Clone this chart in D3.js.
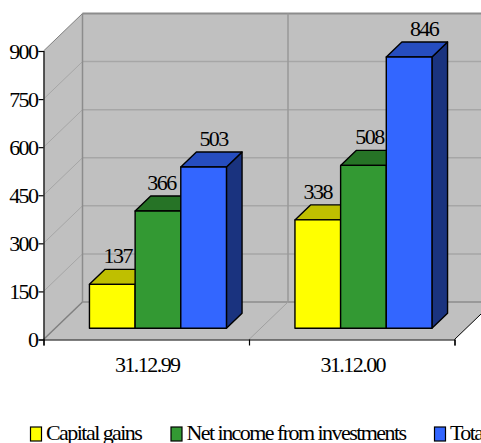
<!DOCTYPE html>
<html>
<head>
<meta charset="utf-8">
<script src="https://cdn.jsdelivr.net/npm/d3@7/dist/d3.min.js"></script>
<style>
html,body{margin:0;padding:0;background:#fff;overflow:hidden}
text{font-family:"Liberation Serif",serif;font-size:22px;letter-spacing:-1.55px;fill:#000}
</style>
</head>
<body>
<svg id="chart" width="481" height="443"></svg>
<script>
const categories = ["31.12.99", "31.12.00"];
const seriesNames = ["Capital gains", "Net income from investments", "Total"];
const capitalGains = [137, 338];
const netIncome = [366, 508];
const total = [503, 846];
const seriesValues = [capitalGains, netIncome, total];
const frontColors = ["#ffff00", "#339933", "#3366ff"];
const topColors = ["#bfbf00", "#267326", "#264dbf"];
const sideColors = ["#808000", "#1a4d1a", "#1a337f"];
const yTicks = [0, 150, 300, 450, 600, 750, 900];

const svg = d3.select("#chart");

// Front plane of the plot box, plus the oblique offset of its full depth
const x0 = d3.scaleBand().domain(categories).range([43.5, 454.5]).paddingInner(1 / 3).paddingOuter(1 / 6);
const x1 = d3.scaleBand().domain(seriesNames).range([0, x0.bandwidth()]);
const y = d3.scaleLinear().domain([0, 900]).range([339.5, 51]);
const depthX = 39, depthY = 37.5;
const project = (px, py, z) => [px + z * depthX, py - z * depthY];
const poly = pts => "M" + pts.map(p => p.join(",")).join("L") + "Z";

const left = x0.range()[0], right = x0.range()[1];
const walls = svg.append("g");

// Back wall, side wall and floor
walls.append("path").attr("fill", "#c0c0c0")
  .attr("d", poly([project(left, y(900), 0), project(left, y(900), 1), project(right, y(900), 1),
                   project(right, y(0), 1), project(right, y(0), 0), project(left, y(0), 0)]));

// Value gridlines across the side wall and the back wall
const grid = walls.append("g");
grid.selectAll(".wall-side").data(yTicks).join("line")
  .attr("x1", left).attr("y1", d => y(d))
  .attr("x2", project(left, 0, 1)[0]).attr("y2", d => project(0, y(d), 1)[1])
  .attr("stroke", d => (d === 0 || d === 900) ? "#808080" : "#a6a6a6")
  .attr("stroke-width", d => d === 0 ? 1.5 : 1);
grid.selectAll(".wall-back").data(yTicks).join("line")
  .attr("x1", project(left, 0, 1)[0]).attr("y1", d => project(0, y(d), 1)[1])
  .attr("x2", project(right, 0, 1)[0]).attr("y2", d => project(0, y(d), 1)[1])
  .attr("stroke", d => (d === 900 || d === 0) ? "#8c8c8c" : "#a6a6a6")
  .attr("stroke-width", d => d === 900 ? 2 : 1.5);

// Category dividers on the floor and up the back wall
const dividers = [left, left + x0.step(), left + 2 * x0.step()];
grid.selectAll(".floor-div").data(dividers.slice(1)).join("line")
  .attr("x1", d => d).attr("y1", y(0))
  .attr("x2", d => project(d, 0, 1)[0]).attr("y2", project(0, y(0), 1)[1])
  .attr("stroke", (d, i) => i === 1 ? "#000" : "#a0a0a0").attr("stroke-width", 1);
grid.selectAll(".back-div").data(dividers.slice(0, 2)).join("line")
  .attr("x1", d => project(d, 0, 1)[0]).attr("y1", project(0, y(0), 1)[1])
  .attr("x2", d => project(d, 0, 1)[0]).attr("y2", project(0, y(900), 1)[1])
  .attr("stroke", (d, i) => i === 0 ? "#8c8c8c" : "#999").attr("stroke-width", 1.5);

// Bars: each one is a front face, a top face and a right-hand face
const zFront = 0.3, zBack = 0.7;
const barLayer = svg.append("g").attr("stroke", "#000").attr("stroke-width", 1.4).attr("stroke-linejoin", "round");
categories.forEach((cat, c) => {
  seriesNames.forEach((name, s) => {
    const v = seriesValues[s][c];
    const xa = x0(cat) + x1(name), xb = xa + x1.bandwidth();
    const f = (px, val) => project(px, y(val), zFront);
    const b = (px, val) => project(px, y(val), zBack);
    const bar = barLayer.append("g");
    bar.append("path").attr("fill", sideColors[s]).attr("d", poly([f(xb, 0), f(xb, v), b(xb, v), b(xb, 0)]));
    bar.append("path").attr("fill", topColors[s]).attr("d", poly([f(xa, v), b(xa, v), b(xb, v), f(xb, v)]));
    bar.append("path").attr("fill", frontColors[s]).attr("d", poly([f(xa, 0), f(xa, v), f(xb, v), f(xb, 0)]));
  });
});

// Value labels above each bar, each nudged sideways off the bar's front-face centre
const labelNudge = [[5.5, 3.5, 10], [0, 6, 15]];
categories.forEach((cat, c) => {
  seriesNames.forEach((name, s) => {
    const v = seriesValues[s][c];
    const mid = x0(cat) + x1(name) + x1.bandwidth() / 2;
    const p = project(mid, y(v), zFront);
    svg.append("text").attr("x", p[0] + labelNudge[c][s]).attr("y", p[1] - 21)
      .attr("text-anchor", "middle").text(v);
  });
});

// Axes on the front plane
const yAxis = d3.axisLeft(y).tickValues(yTicks).tickSize(5).tickPadding(1).tickFormat(d3.format("d"));
const yG = svg.append("g").attr("transform", "translate(43.5,0)").call(yAxis);
const xEdge = d3.scalePoint().domain(d3.range(3)).range([left, right]);
const xAxis = d3.axisBottom(xEdge).tickSize(6).tickFormat("");
const xG = svg.append("g").attr("transform", `translate(0,${y(0)})`).call(xAxis);
[yG, xG].forEach(g => g.selectAll("path,line").attr("stroke", "#000").attr("stroke-width", 1.2));
yG.selectAll("text").attr("dy", "0.33em");
yG.attr("font-size", null).attr("font-family", null);
xG.attr("font-size", null).attr("font-family", null);

svg.selectAll(".cat-label").data(categories).join("text")
  .attr("x", d => x0(d) + x0.bandwidth() / 2 + 1).attr("y", 372)
  .attr("text-anchor", "middle").text(d => d);

// Legend along the bottom
const legendX = d3.scaleOrdinal().domain(seriesNames).range([30.5, 171, 434.5]);
const legend = svg.selectAll(".legend").data(seriesNames).join("g")
  .attr("transform", d => `translate(${legendX(d)},427)`);
legend.append("rect").attr("width", 11).attr("height", 14)
  .attr("fill", (d, i) => frontColors[i]).attr("stroke", "#000").attr("stroke-width", 1.2);
legend.append("text").attr("x", 15.5).attr("y", 13).text(d => d);
</script>
</body>
</html>
